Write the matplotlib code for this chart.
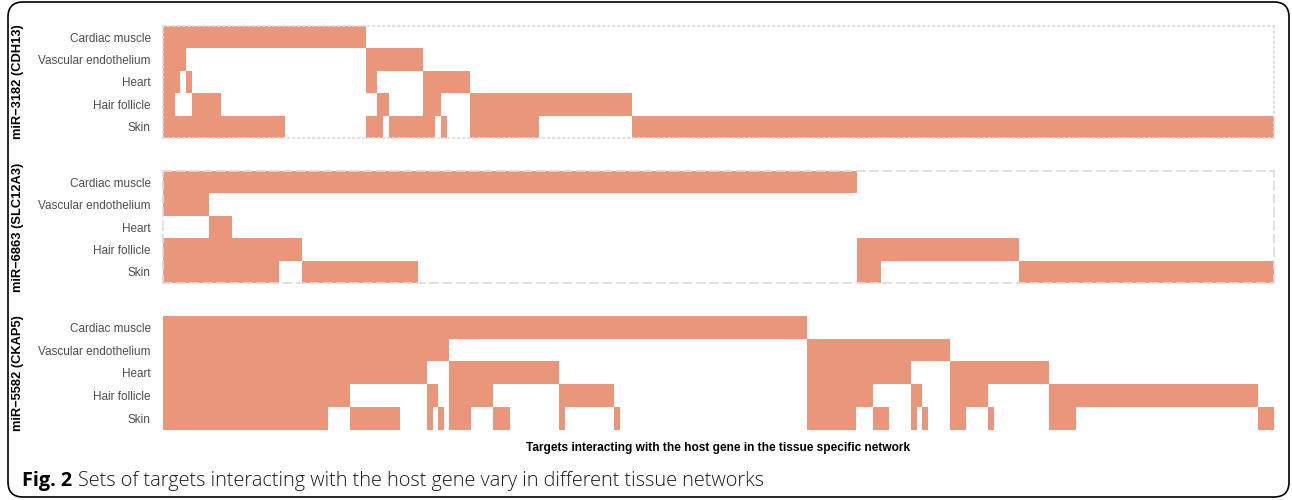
### RECREATE THE TISSUE TARGET SETS FIGURE ###
import numpy as np
import matplotlib
matplotlib.use('Agg')
import matplotlib.pyplot as plt
from matplotlib.patches import FancyBboxPatch

### DATA ###
tissues = ['Cardiac muscle', 'Vascular endothelium', 'Heart', 'Hair follicle', 'Skin']

# membership pattern (Cardiac, Vascular, Heart, Hair, Skin) and number of targets
cdh13_patterns = ['11111', '11101', '11001', '10101', '10011', '10001', '10000',
                  '01101', '01011', '01010', '01001', '00111', '00110', '00101',
                  '00100', '00011', '00010', '00001']
cdh13_counts = [2, 1, 1, 1, 5, 11, 14, 2, 1, 1, 6, 2, 1, 1, 4, 12, 16, 111]

slc12a3_patterns = ['11011', '10111', '10011', '10010', '10001', '10000',
                    '00011', '00010', '00001']
slc12a3_counts = [2, 1, 2, 1, 5, 19, 1, 6, 11]

ckap5_patterns = ['11111', '11110', '11101', '11100', '11011', '11010', '11001',
                  '11000', '10111', '10110', '10101', '10100', '10011', '10010',
                  '10001', '10000', '01111', '01110', '01101', '01100', '01011',
                  '01010', '01001', '01000', '00111', '00110', '00101', '00100',
                  '00011', '00010', '00001']
ckap5_counts = [30, 4, 9, 5, 1, 1, 1, 1, 4, 4, 3, 9, 1, 9, 1, 34, 9, 3, 3, 4,
                1, 1, 1, 4, 3, 4, 1, 10, 5, 33, 3]

mirnas = ['miR\u22123182 (CDH13)', 'miR\u22126863 (SLC12A3)', 'miR\u22125582 (CKAP5)']
xlabel = 'Targets interacting with the host gene in the tissue specific network'
caption_bold = 'Fig. 2'
caption_text = 'Sets of targets interacting with the host gene vary in different tissue networks'

FILL = '#E9967A'
W, H = 1292, 500


### FUNCTIONS ###
# Build the tissue x target matrix
def expand(patterns, counts):
    cols = [[int(c) for c in p] for p, n in zip(patterns, counts) for _ in range(n)]
    return np.array(cols).T


# Draw one panel as runs of filled cells per tissue
def draw_panel(ax, mat):
    n = mat.shape[1]
    for r in range(mat.shape[0]):
        row = np.concatenate([[0], mat[r], [0]])
        d = np.diff(row)
        starts = np.where(d == 1)[0]
        ends = np.where(d == -1)[0]
        ax.barh([r] * len(starts), ends - starts, left=starts, height=1.0,
                color=FILL, edgecolor='none', linewidth=0)
    ax.set_xlim(0, n)
    ax.set_ylim(4.5, -0.5)
    ax.set_xticks([])
    ax.set_yticks(range(len(tissues)))
    ax.set_yticklabels(tissues, fontsize=8.5, color='#4d4d4d', family='Liberation Sans')
    ax.tick_params(axis='y', length=0, pad=9)


def px_axes(fig, x0, y0, x1, y1):
    return fig.add_axes([x0 / W, 1 - y1 / H, (x1 - x0) / W, (y1 - y0) / H])


if __name__ == '__main__':
    fig = plt.figure(figsize=(W / 100, H / 100), dpi=100)

    panels = [(cdh13_patterns, cdh13_counts, 26, 138),
              (slc12a3_patterns, slc12a3_counts, 171, 283),
              (ckap5_patterns, ckap5_counts, 316, 429.5)]
    styles = [(0, (1, 2)), (0, (5, 3)), None]

    for (pats, cnts, top, bot), name, ls in zip(panels, mirnas, styles):
        ax = px_axes(fig, 163, top, 1274, bot)
        draw_panel(ax, expand(pats, cnts))
        for sp in ax.spines.values():
            if ls is None:
                sp.set_visible(False)
            else:
                sp.set_linestyle(ls)
                sp.set_color('#dcdcdc')
                sp.set_linewidth(1.2)
        fig.text(18 / W, 1 - (top + bot) / 2 / H, name, rotation=90, ha='center',
                 va='center', fontsize=9.3, fontweight='bold', family='Liberation Sans')

    fig.text(718.5 / W, 1 - 448 / H, xlabel, ha='center', va='center',
             fontsize=8.6, fontweight='bold', family='Liberation Sans')

    # Caption: bold figure number followed by plain text
    t = fig.text(22 / W, 1 - 481 / H, caption_bold, ha='left', va='center',
                 fontsize=14.3, fontweight='bold', family='Open Sans')
    fig.canvas.draw()
    bb = t.get_window_extent(fig.canvas.get_renderer())
    fig.text((bb.x1 + 6) / W, 1 - 481 / H, caption_text, ha='left', va='center',
             fontsize=14.3, fontweight='light', family='Open Sans', color='#1a1a1a')

    # Rounded frame around the figure
    frame = FancyBboxPatch((0.08, 0.03), 12.81, 4.95,
                           boxstyle='round,pad=0,rounding_size=0.15',
                           transform=fig.dpi_scale_trans, fill=False,
                           edgecolor='black', linewidth=1.2)
    fig.add_artist(frame)

    fig.savefig('out.png', dpi=100)
